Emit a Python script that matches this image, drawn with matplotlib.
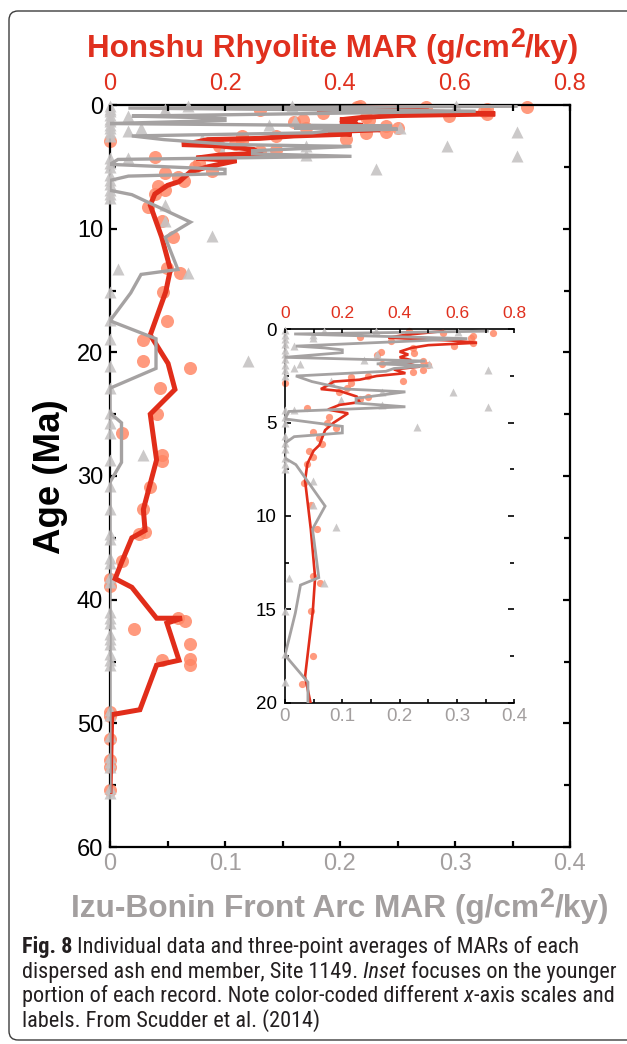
import numpy as np
import matplotlib
matplotlib.use("Agg")
import matplotlib.pyplot as plt
from matplotlib.ticker import MultipleLocator, FixedLocator
from matplotlib.transforms import IdentityTransform
from matplotlib.patches import FancyBboxPatch
from matplotlib import font_manager

# ---------------- data ----------------
# Honshu Rhyolite MAR, three-point average (red, top axis)
honshu_avg_age = [0.1, 0.3, 0.45, 0.6, 0.72, 0.85, 1.0, 1.2, 1.35, 1.5, 1.65, 1.8, 2.0, 2.15,
                  2.35, 2.5, 2.7, 2.8, 3.0, 3.2, 3.3, 3.6, 3.9, 4.05, 4.3, 4.5, 4.7, 5.0, 5.4,
                  5.8, 6.2, 6.5, 7.2, 8.1, 10.7, 13.3, 15.1, 18.6, 20.9, 23.0, 25.0, 28.7, 32.7,
                  34.4, 35.0, 37.0, 38.3, 39.0, 41.5, 41.5, 41.9, 44.9, 45.3, 48.9, 49.3, 55.5]
honshu_avg_mar = [0.55, 0.42, 0.36, 0.58, 0.67, 0.50, 0.44, 0.40, 0.43, 0.40, 0.44, 0.42, 0.47, 0.38,
                  0.42, 0.32, 0.26, 0.17, 0.15, 0.125, 0.19, 0.25, 0.26, 0.19, 0.15, 0.22, 0.20, 0.17, 0.14,
                  0.13, 0.12, 0.10, 0.078, 0.07, 0.09, 0.105, 0.097, 0.07, 0.101, 0.113, 0.07, 0.081, 0.058,
                  0.061, 0.038, 0.02, 0.009, 0.038, 0.081, 0.125, 0.099, 0.12, 0.081, 0.052, 0.003, 0.0]

# Honshu Rhyolite MAR, individual samples (salmon circles)
honshu_pt_age = [0.09, 0.18, 0.18, 0.2, 0.35, 0.41, 0.48, 0.62, 0.71, 0.89, 0.98, 1.22, 1.25, 1.4,
                 1.68, 1.86, 1.9, 2.2, 2.3, 2.48, 2.53, 2.77, 2.9, 2.9, 3.17, 3.35, 3.62, 3.76, 4.19,
                 4.68, 5.04, 5.3, 5.48, 5.83, 6.15, 6.54, 6.85, 7.2, 8.23, 9.41, 10.7, 13.2, 13.6,
                 15.1, 17.5, 19.0, 20.7, 21.3, 22.9, 25.0, 26.5, 28.3, 28.8, 30.9, 32.7, 34.5, 34.7,
                 36.9, 38.3, 38.9, 41.5, 41.7, 42.4, 43.6, 44.8, 44.9, 45.3, 49.1, 49.4, 51.3, 53.0,
                 53.5, 55.4]
honshu_pt_mar = [0.434, 0.725, 0.55, 0.43, 0.655, 0.26, 0.65, 0.37, 0.655, 0.59, 0.445, 0.335, 0.45, 0.32,
                 0.48, 0.34, 0.5, 0.48, 0.445, 0.288, 0.23, 0.41, 0.0, 0.23, 0.218, 0.19, 0.288, 0.26, 0.078,
                 0.154, 0.148, 0.177, 0.096, 0.119, 0.128, 0.084, 0.096, 0.078, 0.066, 0.09, 0.11, 0.099, 0.122,
                 0.092, 0.099, 0.058, 0.058, 0.139, 0.087, 0.081, 0.02, 0.09, 0.09, 0.07, 0.058, 0.061, 0.05,
                 0.02, 0.0, 0.0, 0.119, 0.13, 0.041, 0.139, 0.139, 0.09, 0.139, 0.0, 0.0, 0.0, 0.0,
                 0.0, 0.0]

# Izu-Bonin Front Arc MAR, three-point average (gray, bottom axis)
izu_avg_age = [0.1, 0.25, 0.5, 0.9, 1.0, 1.1, 1.25, 1.35, 1.5, 1.7, 1.85, 1.95, 2.1, 2.25, 2.5,
               2.8, 3.2, 3.35, 3.7, 3.95, 4.15, 4.4, 4.8, 5.2, 5.55, 5.75, 6.1, 6.9, 7.25, 9.47,
               10.7, 13.3, 13.7, 15.2, 17.45, 18.9, 21.3, 22.9, 24.9, 25.7, 28.9, 30.5, 55.5]
izu_avg_mar = [0.353, 0.016, 0.318, 0.019, 0.07, 0.10, 0.10, 0.06, 0.0, 0.245, 0.16, 0.25, 0.19, 0.176, 0.019,
               0.047, 0.106, 0.21, 0.124, 0.124, 0.21, 0.007, 0.0, 0.1, 0.1, 0.016, 0.0, 0.0, 0.019, 0.07,
               0.048, 0.059, 0.027, 0.018, 0.0, 0.04, 0.04, 0.0, 0.0, 0.01, 0.01, 0.0, 0.0]

# Izu-Bonin Front Arc MAR, individual samples (gray triangles)
izu_pt_age = [0.05, 0.3, 0.5, 0.8, 1.1, 1.3, 1.6, 1.9, 2.2, 2.5, 4.3, 4.7, 5.0, 5.7, 6.1, 6.4, 6.9,
              7.2, 7.5, 15.1, 17.4, 18.9, 21.1, 22.9, 24.9, 25.7, 26.5, 28.7, 30.8, 32.7, 34.7, 35.1,
              36.6, 37.0, 38.2, 38.6, 41.0, 41.5, 41.9, 42.8, 43.2, 43.6, 44.4, 44.9, 45.3, 48.9,
              49.3, 51.0, 52.7, 53.1, 53.5, 55.2, 55.6,
              0.1, 0.3, 0.09, 0.12, 0.48, 0.89, 1.33, 1.65, 1.86, 2.07, 1.86, 2.2, 2.75, 3.35, 3.35,
              3.8, 4.06, 4.15, 4.32, 5.21, 8.1, 9.4, 10.6, 13.3, 13.6, 20.7, 28.3]
izu_pt_mar = [0.0] * 53 + \
             [0.068, 0.048, 0.158, 0.301, 0.048, 0.016, 0.161, 0.138, 0.027, 0.016, 0.252, 0.354, 0.08,
              0.17, 0.293, 0.097, 0.17, 0.354, 0.016, 0.231, 0.048, 0.048, 0.089, 0.007, 0.068, 0.12, 0.029]

main_age_ticks = [0, 10, 20, 30, 40, 50, 60]
inset_age_ticks = [0, 5, 10, 15, 20]
izu_ticks = [0, 0.1, 0.2, 0.3, 0.4]
izu_tick_labels = ["0", "0.1", "0.2", "0.3", "0.4"]
honshu_ticks = [0, 0.2, 0.4, 0.6, 0.8]
honshu_tick_labels = ["0", "0.2", "0.4", "0.6", "0.8"]

title_top = "Honshu Rhyolite MAR (g/cm"
title_bottom = "Izu-Bonin Front Arc MAR (g/cm"
age_label = "Age (Ma)"
caption_lines = [
    [("Fig. 8", "bold", "normal"), (" Individual data and three-point averages of MARs of each", "normal", "normal")],
    [("dispersed ash end member, Site 1149.", "normal", "normal"), (" Inset", "normal", "italic"),
     (" focuses on the younger", "normal", "normal")],
    [("portion of each record. Note color-coded different", "normal", "normal"), (" x", "normal", "italic"),
     ("-axis scales and", "normal", "normal")],
    [("labels. From Scudder et al. (2014)", "normal", "normal")],
]

# ---------------- style ----------------
RED = "#E12D1A"
RED_TXT = "#E0301E"
SALMON = "#FF8462"
TRI = "#C6C3C3"
GRAYLINE = "#A5A2A2"
GRAYTXT = "#A39F9F"

plt.rcParams["font.family"] = ["Liberation Sans", "DejaVu Sans"]
names = {f.name for f in font_manager.fontManager.ttflist}
CAPFONT = "Liberation Sans"
for cand in ["Liberation Sans Narrow", "Roboto Condensed", "Open Sans Condensed"]:
    if cand in names:
        CAPFONT = cand
        break

W, H = 627, 1044
fig = plt.figure(figsize=(W / 100, H / 100), dpi=100)
renderer = fig.canvas.get_renderer()


def setup(ax, axr, age_ticks, age_minor, sz_y, sz_g, sz_r, lw, L, l, pad_y, pad_b, pad_t):
    for s in ax.spines.values():
        s.set_linewidth(lw)
    for s in axr.spines.values():
        s.set_visible(False)
    ax.yaxis.set_major_locator(FixedLocator(age_ticks))
    ax.set_yticklabels([str(v) for v in age_ticks])
    ax.yaxis.set_minor_locator(MultipleLocator(age_minor))
    ax.tick_params(axis="y", which="both", direction="in", left=True, right=True,
                   labelsize=sz_y, pad=pad_y, width=lw)
    ax.tick_params(axis="y", which="major", length=L)
    ax.tick_params(axis="y", which="minor", length=l)
    ax.xaxis.set_major_locator(FixedLocator(izu_ticks))
    ax.set_xticklabels(izu_tick_labels)
    ax.xaxis.set_minor_locator(MultipleLocator(0.05))
    ax.tick_params(axis="x", which="both", direction="in", bottom=True, top=False,
                   labelsize=sz_g, labelcolor=GRAYTXT, pad=pad_b, width=lw, length=l)
    axr.xaxis.set_major_locator(FixedLocator(honshu_ticks))
    axr.set_xticklabels(honshu_tick_labels)
    axr.xaxis.set_minor_locator(MultipleLocator(0.1))
    axr.tick_params(axis="x", which="both", direction="in", top=True, bottom=False,
                    labelsize=sz_r, labelcolor=RED_TXT, pad=pad_t, width=lw, length=l)


def draw(ax, axr, agemax, ms_c, ms_t, lw_r, lw_g):
    ha = np.array(honshu_pt_age); hm = np.array(honshu_pt_mar)
    ia = np.array(izu_pt_age); im = np.array(izu_pt_mar)
    sh = ha <= agemax
    si = ia <= agemax
    ax.plot(hm[sh], ha[sh], "o", ms=ms_c, color=SALMON, alpha=0.82, mec="none",
            transform=axr.transData, clip_on=False, zorder=2)
    ax.plot(im[si], ia[si], "^", ms=ms_t, color=TRI, alpha=0.9, mec="none",
            clip_on=False, zorder=3)
    ax.plot(honshu_avg_mar, honshu_avg_age, "-", color=RED, lw=lw_r,
            transform=axr.transData, zorder=4, solid_joinstyle="miter")
    ax.plot(izu_avg_mar, izu_avg_age, "-", color=GRAYLINE, lw=lw_g, zorder=5,
            solid_joinstyle="miter")


# main axes
ax = fig.add_axes([110 / W, 1 - 847 / H, 460 / W, 742 / H])
axr = ax.twiny()
ax.set_xlim(0, 0.4)
axr.set_xlim(0, 0.8)
ax.set_ylim(60, 0)
setup(ax, axr, main_age_ticks, 5, 17, 17, 17, 1.6, 5, 4, 5, 4.5, 7.5)
draw(ax, axr, 60, 9.4, 8.6, 3.6, 2.4)
ax.set_xlim(0, 0.4); axr.set_xlim(0, 0.8); ax.set_ylim(60, 0)

# inset axes
axi = fig.add_axes([285 / W, 1 - 702.7 / H, 229.3 / W, 373.4 / H])
axir = axi.twiny()
axi.set_xlim(0, 0.4)
axir.set_xlim(0, 0.8)
axi.set_ylim(20, 0)
setup(axi, axir, inset_age_ticks, 2.5, 13.5, 13.5, 12.5, 1.2, 4, 3, 6, 4, 6)
axi.spines["right"].set_visible(False)
draw(axi, axir, 20.2, 5.2, 5.2, 1.9, 2.0)
axi.set_xlim(0, 0.4); axir.set_xlim(0, 0.8); axi.set_ylim(20, 0)


# rich text helper (pixel coordinates, y measured from image top, baseline)
def rich(x, y_img, segs, size, ha="left", fit=None, family=None):
    def build(sz):
        objs = []
        for txt, rel, rise, kw in segs:
            kw2 = dict(kw)
            if family:
                kw2["family"] = family
            t = fig.text(0, 0, txt, transform=IdentityTransform(), ha="left",
                         va="baseline", fontsize=sz * rel, **kw2)
            objs.append((t, rise * sz * 100 / 72))
        ws = [t.get_window_extent(renderer).width for t, _ in objs]
        return objs, ws
    objs, ws = build(size)
    if fit:
        tot = sum(ws)
        for t, _ in objs:
            t.remove()
        size = size * fit / tot
        objs, ws = build(size)
    tot = sum(ws)
    x0 = x - tot / 2 if ha == "center" else x
    for (t, rise), w in zip(objs, ws):
        t.set_position((x0, H - y_img + rise))
        x0 += w
    return size


tkw = dict(weight="bold", color=RED_TXT)
rich(333, 57, [(title_top, 1.0, 0, tkw), ("2", 0.85, 0.32, tkw), ("/ky)", 1.0, 0, tkw)],
     22, ha="center", fit=490)
gkw = dict(weight="bold", color=GRAYTXT)
rich(340, 917, [(title_bottom, 1.0, 0, gkw), ("2", 0.85, 0.32, gkw), ("/ky)", 1.0, 0, gkw)],
     22, ha="center", fit=536)

# Age label (rotated)
ta = fig.text(50, H - 477, age_label, transform=IdentityTransform(), rotation=90,
              ha="center", va="center", fontsize=24, weight="bold", color="black")
hh = ta.get_window_extent(renderer).height
ta.set_fontsize(24 * 155 / hh)

# caption
cap_base = [953, 978, 1002, 1027]
cap_size = None
for i, line in enumerate(caption_lines):
    segs = [(s, 1.0, 0, dict(weight=w, style=st, color="#231F20")) for s, w, st in line]
    if cap_size is None:
        cap_size = rich(22, cap_base[i], segs, 12, fit=556, family=CAPFONT)
    else:
        rich(22, cap_base[i], segs, cap_size, family=CAPFONT)

# outer frame
frame = FancyBboxPatch((9, 4), 700, 1029, boxstyle="round,pad=0,rounding_size=9",
                       transform=IdentityTransform(), fill=False, ec="#3c3c3c", lw=1.0)
fig.add_artist(frame)

fig.savefig("out.png", dpi=100)
